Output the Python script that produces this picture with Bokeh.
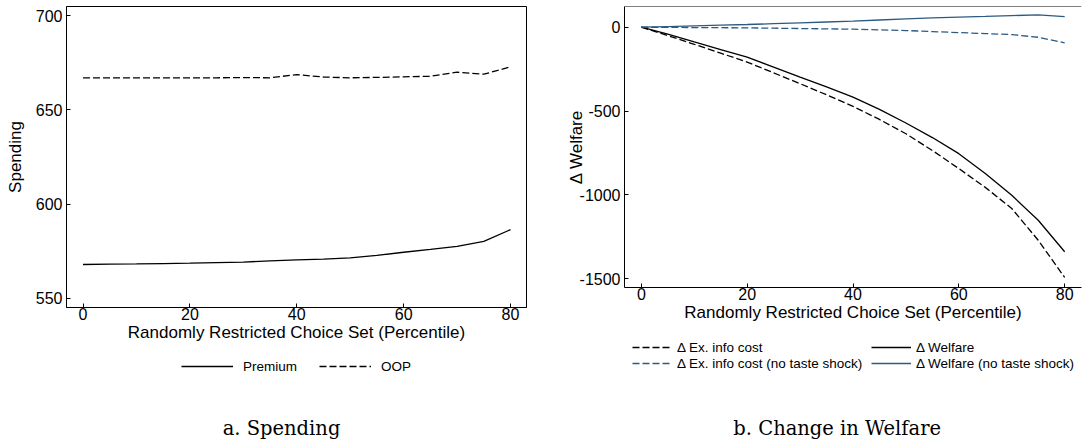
from bokeh.plotting import figure
from bokeh.models import (Range1d, Legend, LegendItem, Label, Span,
                          PrintfTickFormatter)
from bokeh.layouts import row, column
from bokeh.embed import file_html
from bokeh.resources import INLINE

# ---------------- data ----------------
pct = [0, 5, 10, 15, 20, 25, 30, 35, 40, 45, 50, 55, 60, 65, 70, 75, 80]

premium = [568.0, 568.2, 568.3, 568.5, 568.7, 569.0, 569.3, 569.9, 570.4,
           570.9, 571.5, 572.8, 574.5, 576.0, 577.6, 580.3, 586.5]
oop = [667.0, 667.0, 667.0, 667.0, 667.0, 667.0, 667.1, 667.0, 668.7,
       667.4, 667.0, 667.2, 667.5, 667.8, 670.0, 668.9, 672.8]

d_excost = [0, -50, -102, -155, -208, -272, -337, -403, -472,
            -550, -635, -735, -843, -955, -1081, -1270, -1492]
d_welfare = [0, -42, -88, -133, -179, -238, -298, -356, -417,
             -490, -571, -658, -754, -872, -1002, -1151, -1339]
d_excost_nts = [0, -1, -2, -3, -4, -6, -8, -10, -12,
                -16, -20, -26, -32, -38, -44, -60, -93]
d_welfare_nts = [0, 4, 8, 12, 16, 21, 26, 31, 36,
                 43, 50, 55, 60, 64, 69, 73, 63]

x_ticks = [0, 20, 40, 60, 80]
spend_ticks = [550, 600, 650, 700]
welf_ticks = [-1500, -1000, -500, 0]

x_title = "Randomly Restricted Choice Set (Percentile)"
legend_a = ["Premium", "OOP"]
legend_b = ["\u0394 Ex. info cost", "\u0394 Welfare",
            "\u0394 Ex. info cost (no taste shock)", "\u0394 Welfare (no taste shock)"]
captions = ["a. Spending", "b. Change in Welfare"]

FONT = "Liberation Sans"
SERIF = "DejaVu Serif"
BLUE = "#2d5a82"
DASH = "7 3"
LW = 1.3


def style(p):
    for ax in list(p.xaxis) + list(p.yaxis):
        ax.axis_line_color = "black"
        ax.axis_line_width = 1
        ax.major_tick_line_color = "black"
        ax.major_tick_in = 4
        ax.major_tick_out = 0
        ax.minor_tick_line_color = None
        ax.major_label_text_font = FONT
        ax.major_label_text_font_size = "16px"
        ax.major_label_text_color = "black"
        ax.axis_label_text_font = FONT
        ax.axis_label_text_font_size = "17px"
        ax.axis_label_text_font_style = "normal"
        ax.axis_label_text_color = "black"
    p.xgrid.visible = False
    p.ygrid.visible = False
    p.xaxis.major_label_standoff = 0
    p.xaxis.axis_label_standoff = 0
    p.yaxis.major_label_standoff = 4
    p.yaxis.formatter = PrintfTickFormatter(format="%d")
    p.background_fill_color = "white"
    p.border_fill_color = "white"


def footer(width, height, x0, x1):
    # frame of the footer is aligned with the frame of the plot above it;
    # its x range is expressed in page pixels, its y range in pixels from the bottom
    q = figure(width=width, height=height, output_backend="svg", toolbar_location=None,
               x_range=Range1d(x0, x1), y_range=Range1d(0, height),
               x_axis_type=None, y_axis_type=None,
               min_border_top=0, min_border_bottom=0)
    q.outline_line_color = None
    q.xgrid.visible = False
    q.ygrid.visible = False
    q.background_fill_color = "white"
    q.border_fill_color = "white"
    return q


def legend(items, loc, **kw):
    return Legend(items=items, orientation="horizontal", location=loc,
                  padding=0, margin=0, border_line_color=None,
                  background_fill_alpha=0, label_text_font=FONT,
                  label_text_font_size="13.5px", label_text_color="black",
                  label_height=16, glyph_height=16, **kw)


# ---------------- panel a ----------------
p1 = figure(width=546, height=347, output_backend="svg", toolbar_location=None,
            x_range=Range1d(-3.09, 82.99), y_range=Range1d(545.2, 704.8),
            min_border_left=66, min_border_right=20, min_border_top=6,
            min_border_bottom=40)
p1.outline_line_color = "black"
p1.outline_line_width = 1
style(p1)
p1.xaxis.ticker = x_ticks
p1.yaxis.ticker = spend_ticks
p1.xaxis.axis_label = x_title
p1.yaxis.axis_label = "Spending"
p1.yaxis.axis_label_standoff = 8

p1.line(pct, premium, line_color="black", line_width=LW)
p1.line(pct, oop, line_color="black", line_width=LW, line_dash=DASH)

# footer a: same series (outside its visible range) feed the legend
q1 = footer(546, 98, 66, 526)
k_prem = q1.line(pct, premium, line_color="black", line_width=LW)
k_oop = q1.line(pct, oop, line_color="black", line_width=LW, line_dash=DASH)
q1.add_layout(legend([LegendItem(label=legend_a[0], renderers=[k_prem]),
                      LegendItem(label=legend_a[1], renderers=[k_oop])],
                     (115, 71), glyph_width=52, label_standoff=10, spacing=22))
q1.add_layout(Label(x=281, y=17, text=captions[0], text_align="center",
                    text_baseline="middle", text_font=SERIF,
                    text_font_size="19.5px", text_color="black"))

# ---------------- panel b ----------------
p2 = figure(width=540, height=327, output_backend="svg", toolbar_location=None,
            x_range=Range1d(-3.18, 83.18), y_range=Range1d(-1551.9, 123.4),
            min_border_left=78, min_border_right=0, min_border_top=6,
            min_border_bottom=40)
p2.outline_line_color = None
style(p2)
p2.xaxis.ticker = x_ticks
p2.yaxis.ticker = welf_ticks
p2.xaxis.axis_label = x_title
p2.yaxis.axis_label = "\u0394 Welfare"
p2.yaxis.axis_label_standoff = -9
p2.add_layout(Span(location=123.4, dimension="width", line_color="black", line_width=1))

p2.line(pct, d_excost, line_color="black", line_width=LW, line_dash=DASH)
p2.line(pct, d_welfare, line_color="black", line_width=LW)
p2.line(pct, d_excost_nts, line_color=BLUE, line_width=LW, line_dash=DASH)
p2.line(pct, d_welfare_nts, line_color=BLUE, line_width=LW)

q2 = footer(540, 118, 624, 1086)
k_ex = q2.line(pct, d_excost, line_color="black", line_width=LW, line_dash=DASH)
k_w = q2.line(pct, d_welfare, line_color="black", line_width=LW)
k_exn = q2.line(pct, d_excost_nts, line_color=BLUE, line_width=LW, line_dash=DASH)
k_wn = q2.line(pct, d_welfare_nts, line_color=BLUE, line_width=LW)
q2.add_layout(legend([LegendItem(label=legend_b[0], renderers=[k_ex]),
                      LegendItem(label=legend_b[1], renderers=[k_w])],
                     (8, 90), glyph_width=40, label_standoff=5, spacing=2,
                     label_width=192))
q2.add_layout(legend([LegendItem(label=legend_b[2], renderers=[k_exn]),
                      LegendItem(label=legend_b[3], renderers=[k_wn])],
                     (8, 74), glyph_width=40, label_standoff=5, spacing=2,
                     label_width=192))
q2.add_layout(Label(x=839, y=17, text=captions[1], text_align="center",
                    text_baseline="middle", text_font=SERIF,
                    text_font_size="19.5px", text_color="black"))

layout = row(column(p1, q1), column(p2, q2))
open("out.html", "w").write(file_html(layout, INLINE))
